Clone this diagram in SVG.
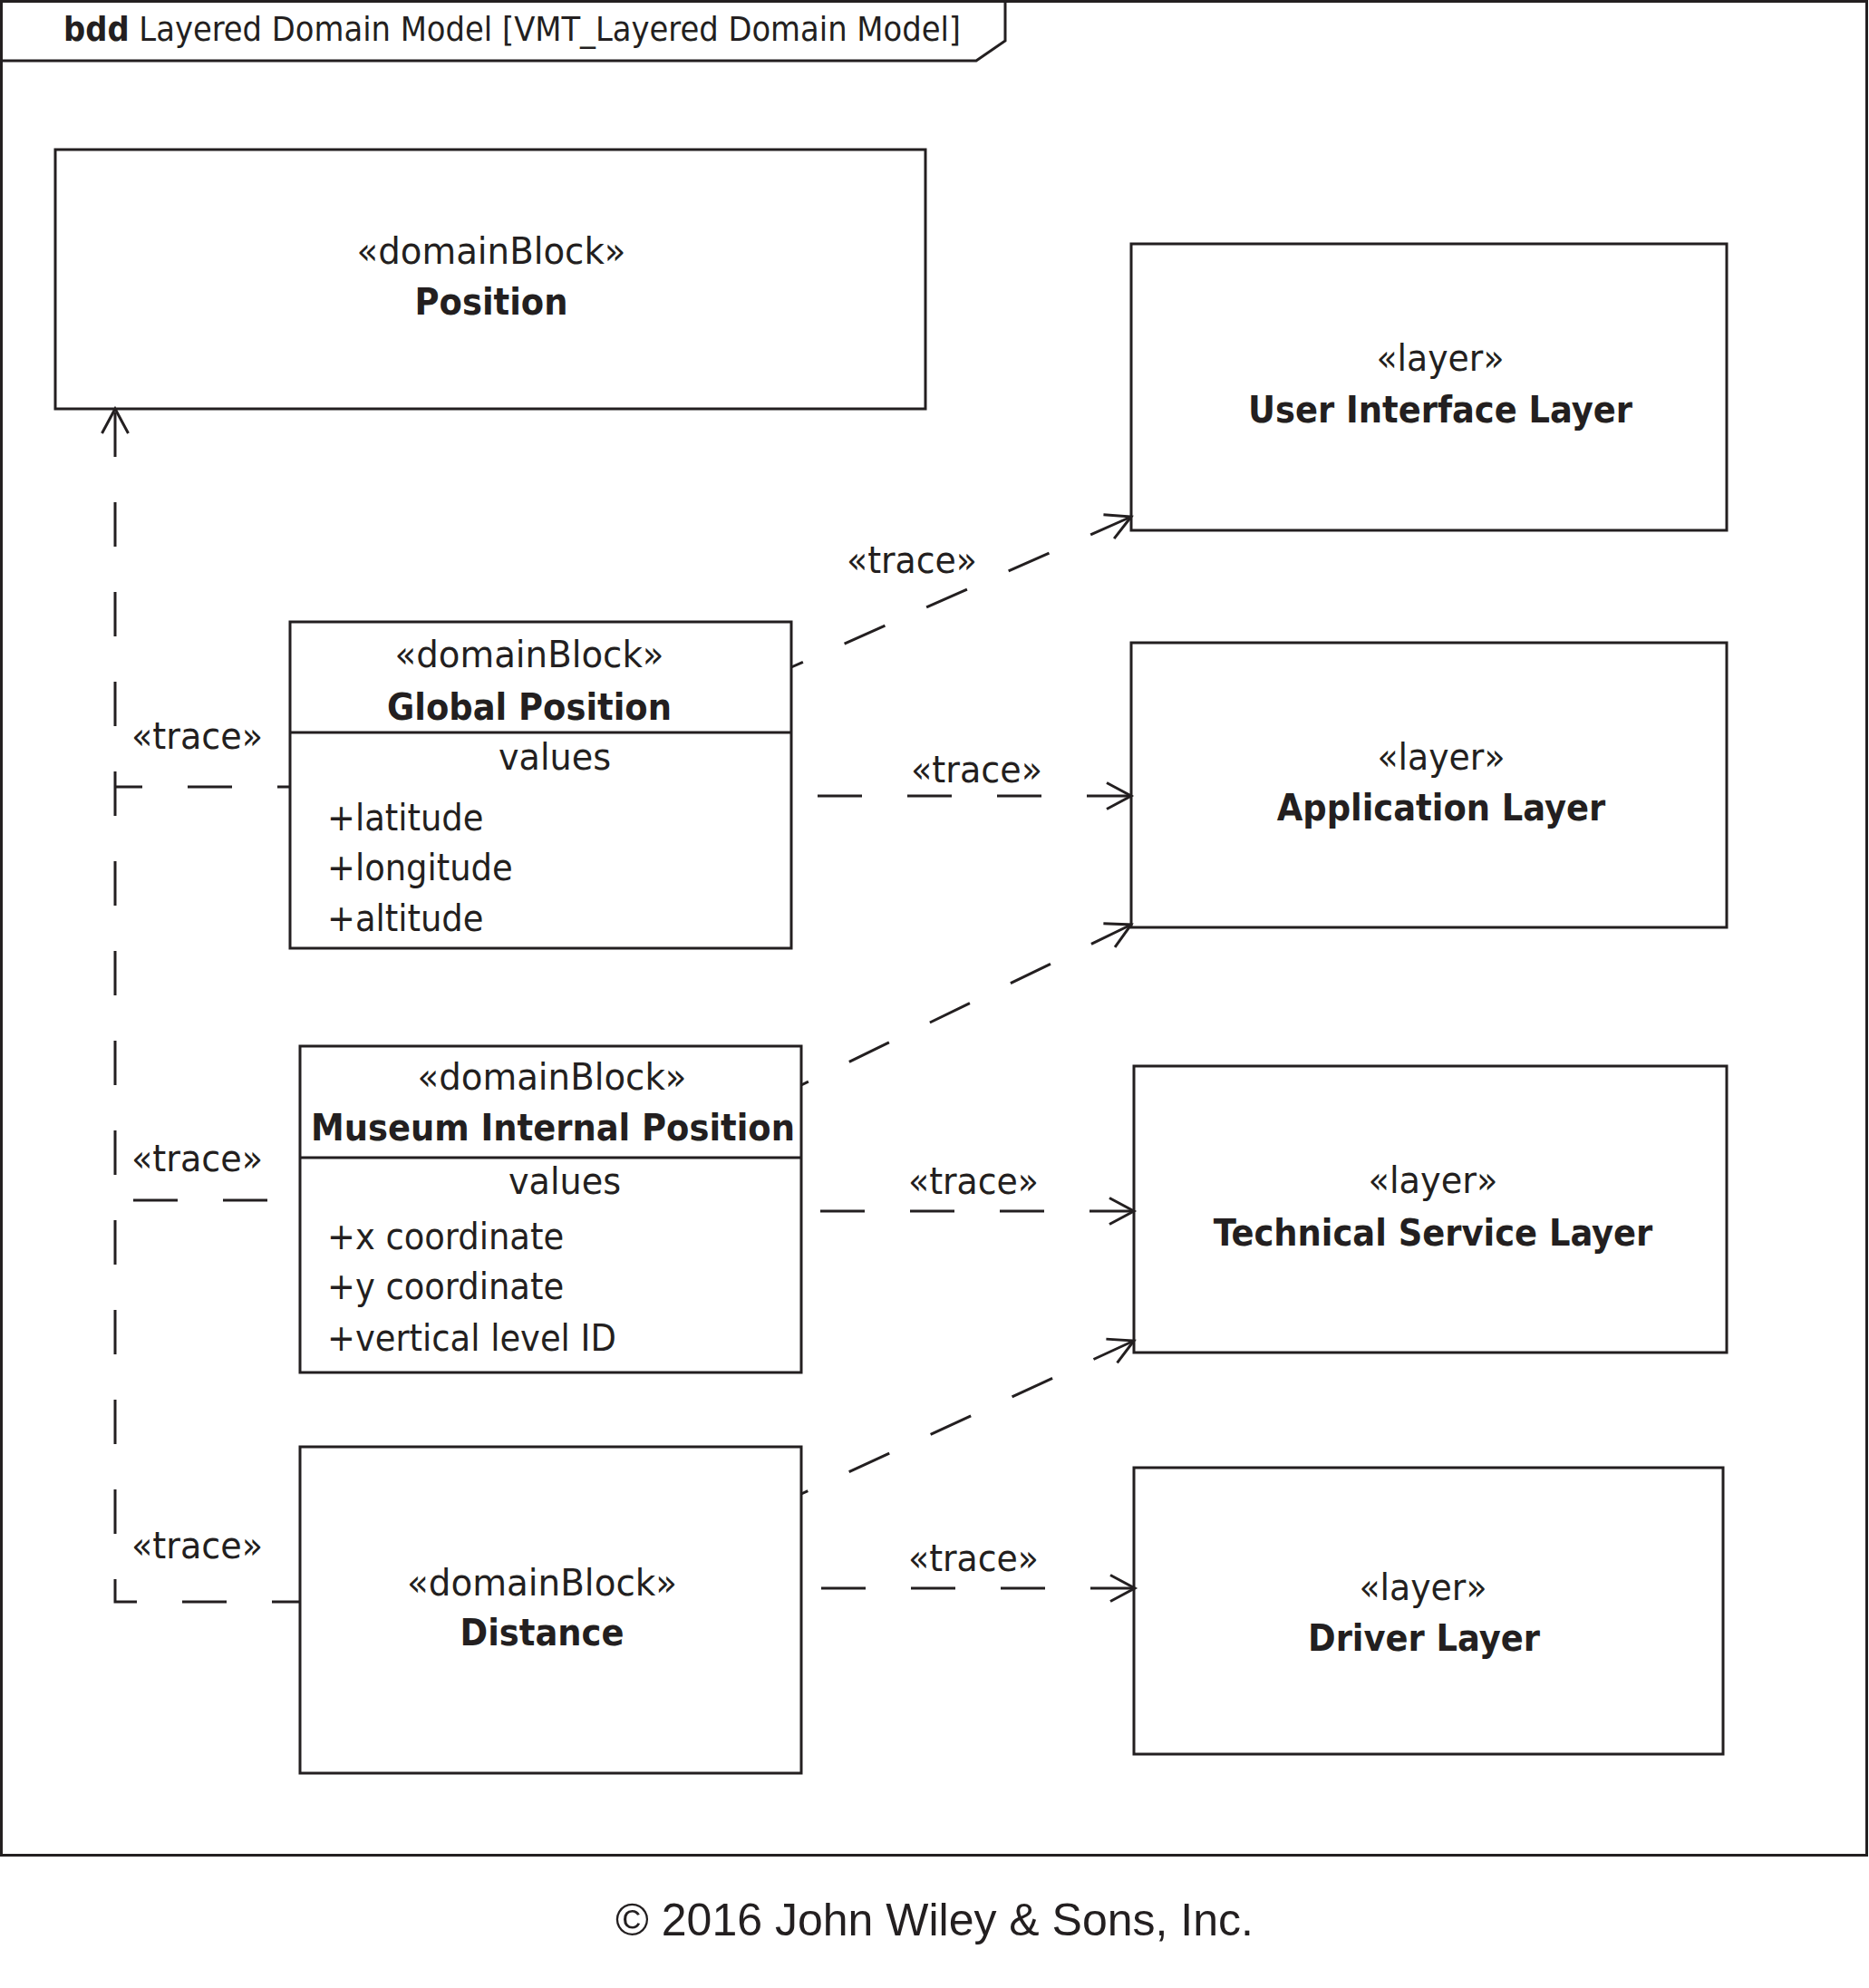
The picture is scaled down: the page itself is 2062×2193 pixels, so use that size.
<svg xmlns="http://www.w3.org/2000/svg" width="2062" height="2193" viewBox="0 0 2062 2193">
<style>
.box{fill:#fff;stroke:#231f20;stroke-width:3}
.ln{fill:none;stroke:#231f20;stroke-width:3}
.t{font-family:'DejaVu Sans Condensed','DejaVu Sans',sans-serif;font-stretch:condensed;font-size:41px;fill:#231f20}
.b{font-weight:bold}
.m{text-anchor:middle}
.dash{fill:none;stroke:#231f20;stroke-width:3;stroke-dasharray:49 50}
</style>
<defs>
<marker id="arr" markerUnits="userSpaceOnUse" markerWidth="40" markerHeight="40" refX="0" refY="0" viewBox="-30 -20 40 40" orient="auto" overflow="visible">
<path d="M-27,-14.5 L0,0 L-27,14.5" fill="none" stroke="#231f20" stroke-width="3"/>
</marker>
<marker id="arrS" markerUnits="userSpaceOnUse" markerWidth="40" markerHeight="40" refX="0" refY="0" viewBox="-30 -20 40 40" orient="auto-start-reverse" overflow="visible">
<path d="M-27,-14.5 L0,0 L-27,14.5" fill="none" stroke="#231f20" stroke-width="3"/>
</marker>
</defs>
<rect width="2062" height="2193" fill="#fff"/>
<g id="frame">
<rect x="1.5" y="1.5" width="2058" height="2045" class="ln"/>
<path d="M1,67 H1077 L1109,45 V1" class="ln"/>
<text x="70" y="45" class="t" style="font-size:37.6px"><tspan class="b">bdd</tspan> Layered Domain Model [VMT_Layered Domain Model]</text>
</g>
<g id="position">
<rect x="61" y="165" width="960" height="286" class="box"/>
<text x="542" y="291" class="t m" textLength="297" lengthAdjust="spacingAndGlyphs">«domainBlock»</text>
<text x="542" y="347" class="t m b">Position</text>
</g>
<g id="global-position">
<rect x="320" y="686" width="553" height="360" class="box"/>
<line x1="320" y1="808" x2="873" y2="808" class="ln"/>
<text x="584" y="736" class="t m" textLength="297" lengthAdjust="spacingAndGlyphs">«domainBlock»</text>
<text x="584" y="794" class="t m b">Global Position</text>
<text x="612" y="849" class="t m" textLength="124" lengthAdjust="spacingAndGlyphs">values</text>
<text x="361" y="916" class="t">+latitude</text>
<text x="361" y="971" class="t">+longitude</text>
<text x="361" y="1027" class="t">+altitude</text>
</g>
<g id="museum-internal-position">
<rect x="331" y="1154" width="553" height="360" class="box"/>
<line x1="331" y1="1277" x2="884" y2="1277" class="ln"/>
<text x="609" y="1202" class="t m" textLength="297" lengthAdjust="spacingAndGlyphs">«domainBlock»</text>
<text x="610" y="1258" class="t m b">Museum Internal Position</text>
<text x="623" y="1317" class="t m" textLength="124" lengthAdjust="spacingAndGlyphs">values</text>
<text x="361" y="1378" class="t">+x coordinate</text>
<text x="361" y="1433" class="t">+y coordinate</text>
<text x="361" y="1490" class="t">+vertical level ID</text>
</g>
<g id="distance">
<rect x="331" y="1596" width="553" height="360" class="box"/>
<text x="598" y="1760" class="t m" textLength="298" lengthAdjust="spacingAndGlyphs">«domainBlock»</text>
<text x="598" y="1815" class="t m b">Distance</text>
</g>
<g id="user-interface-layer">
<rect x="1248" y="269" width="657" height="316" class="box"/>
<text x="1589" y="409" class="t m" textLength="141" lengthAdjust="spacingAndGlyphs">«layer»</text>
<text x="1589" y="466" class="t m b">User Interface Layer</text>
</g>
<g id="application-layer">
<rect x="1248" y="709" width="657" height="314" class="box"/>
<text x="1590" y="849" class="t m" textLength="141" lengthAdjust="spacingAndGlyphs">«layer»</text>
<text x="1590" y="905" class="t m b">Application Layer</text>
</g>
<g id="technical-service-layer">
<rect x="1251" y="1176" width="654" height="316" class="box"/>
<text x="1581" y="1316" class="t m" textLength="143" lengthAdjust="spacingAndGlyphs">«layer»</text>
<text x="1581" y="1374" class="t m b">Technical Service Layer</text>
</g>
<g id="driver-layer">
<rect x="1251" y="1619" width="650" height="316" class="box"/>
<text x="1570" y="1765" class="t m" textLength="141" lengthAdjust="spacingAndGlyphs">«layer»</text>
<text x="1571" y="1821" class="t m b">Driver Layer</text>
</g>
<g id="connectors">
<path d="M331,1767 H127 V451" class="dash" style="stroke-dashoffset:18" marker-end="url(#arr)"/>
<path d="M320,868 H127" class="dash" style="stroke-dashoffset:35"/>
<path d="M331,1324 H127" class="dash" style="stroke-dashoffset:63"/>
<path d="M1248,570 L873,736" class="dash" marker-start="url(#arrS)"/>
<path d="M1248,878 H873" class="dash" marker-start="url(#arrS)"/>
<path d="M1248,1020 L884,1197" class="dash" marker-start="url(#arrS)"/>
<path d="M1251,1336 H884" class="dash" marker-start="url(#arrS)"/>
<path d="M1251,1479 L884,1648" class="dash" marker-start="url(#arrS)"/>
<path d="M1252,1752 H884" class="dash" marker-start="url(#arrS)"/>
<text x="145" y="826" class="t" textLength="145" lengthAdjust="spacingAndGlyphs">«trace»</text>
<text x="145" y="1292" class="t" textLength="145" lengthAdjust="spacingAndGlyphs">«trace»</text>
<text x="145" y="1719" class="t" textLength="145" lengthAdjust="spacingAndGlyphs">«trace»</text>
<text x="934" y="632" class="t" textLength="144" lengthAdjust="spacingAndGlyphs">«trace»</text>
<text x="1005" y="863" class="t" textLength="145" lengthAdjust="spacingAndGlyphs">«trace»</text>
<text x="1002" y="1317" class="t" textLength="144" lengthAdjust="spacingAndGlyphs">«trace»</text>
<text x="1002" y="1733" class="t" textLength="144" lengthAdjust="spacingAndGlyphs">«trace»</text>
</g>
<text x="1031" y="2135" style="font-family:'Liberation Sans',Arial,sans-serif;font-size:50px;fill:#231f20" text-anchor="middle">© 2016 John Wiley &amp; Sons, Inc.</text>
</svg>
